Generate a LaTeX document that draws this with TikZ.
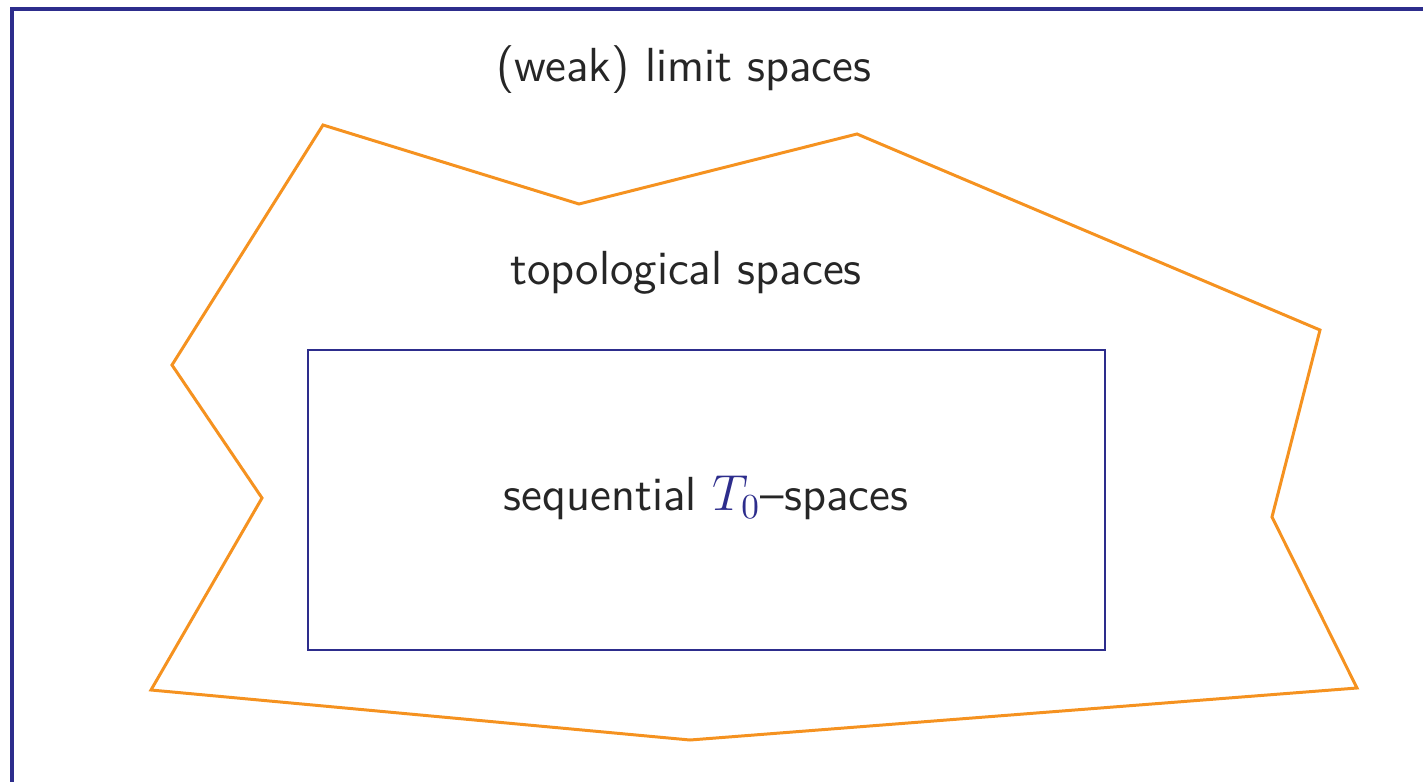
\documentclass[tikz,border=0pt]{standalone}
\usepackage{tikz}
\usetikzlibrary{positioning}
\usepackage{xcolor}
\definecolor{meuazul}{RGB}{45, 45, 140}
\definecolor{meularanja}{RGB}{245, 146, 32}

\begin{document}
\begin{tikzpicture}[
    x=0.01cm, y=-0.01cm,
    label/.style={font=\sffamily\fontsize{13.6}{16}\selectfont, text=black!85, inner sep=0pt},
    frame/.style={draw=meuazul, line width=1.1pt},
    region/.style={draw=meularanja, line width=0.85pt, line join=miter},
    inner/.style={draw=meuazul, line width=0.75pt}
  ]
  \useasboundingbox (0,0) rectangle (1423,781);
  \clip (0,0) rectangle (1423,781);

  % Moldura
  \draw[frame] (12,9) rectangle (1500,900);

  % Espacos topologicos
  \coordinate (p1) at (323,125);
  \coordinate (p2) at (579,204);
  \coordinate (p3) at (857,134);
  \coordinate (p4) at (1320,330);
  \coordinate (p5) at (1272,517);
  \coordinate (p6) at (1357,688);
  \coordinate (p7) at (690,740);
  \coordinate (p8) at (151,690);
  \coordinate (p9) at (262,498);
  \coordinate (p10) at (172,365);
  \draw[region] (p1) -- (p2) -- (p3) -- (p4) -- (p5) -- (p6) -- (p7) -- (p8) -- (p9) -- (p10) -- cycle;

  % Espacos sequenciais
  \draw[inner] (308,350) rectangle (1105,650);

  % Rotulos
  \node[label] (limit) at (684,70) {(weak) limit spaces};
  \node[label] (top) at (686,273) {topological spaces};
  \node[label] (seq) at (706,498) {sequential \textcolor{meuazul}{$T_0$}--spaces};
\end{tikzpicture}
\end{document}
